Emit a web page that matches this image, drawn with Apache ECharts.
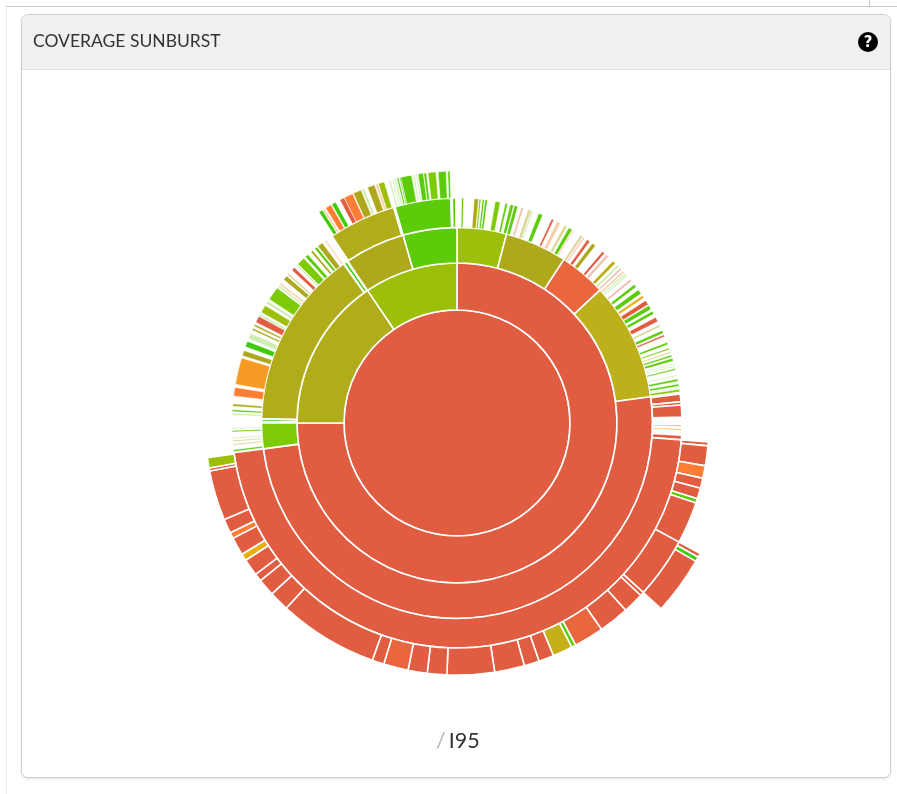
<!DOCTYPE html>
<html>
<head>
<meta charset="utf-8">
<script src="https://cdn.jsdelivr.net/npm/echarts@6/dist/echarts.min.js"></script>
<style>
html,body{margin:0;padding:0;background:#fff;width:897px;height:794px;overflow:hidden;font-family:Lato,sans-serif}
#ruleT{position:absolute;left:6px;top:6px;right:0;height:1px;background:#c9c9c9}
#ruleV{position:absolute;left:869px;top:0;width:1px;height:6px;background:#c9c9c9}
#ruleL{position:absolute;left:6px;top:7px;width:1px;bottom:0;background:#eeeeee}
#card{position:absolute;left:21px;top:14px;width:868px;height:762px;border:1px solid #cfcfcf;border-radius:7px;box-shadow:0 1px 2px rgba(0,0,0,.12);background:#fff;overflow:hidden}
#head{height:54px;background:#f0f0f0;border-bottom:1px solid #e2e2e2}
#chart{position:absolute;left:0;top:0;width:897px;height:794px}
#help{position:absolute;left:858px;top:32px;width:20px;height:20px;border-radius:50%;background:#000;color:#fff;font:bold 15px/20px "DejaVu Sans",sans-serif;text-align:center}
</style>
</head>
<body>
<div id="ruleT"></div><div id="ruleV"></div><div id="ruleL"></div>
<div id="card"><div id="head"></div></div>
<div id="chart"></div>
<div id="help">?</div>
<script>
// Coverage classes
const classColors = {
  R:'#e05d42', f:'#ea663e', F:'#fd7d35', A:'#f99a25', Y:'#e6b010', V:'#c6b01a',
  U:'#bdb01b', O:'#b0ac1a', N:'#ada81c', L:'#9dbf0a', M:'#7dcb07', G:'#5ccb0a', H:'#3fcb0b',
  pG:'#cdeeb0', pR:'#f2bdb0', pO:'#dcd79a', pF:'#f8cfa8', _:'rgba(0,0,0,0)'
};
const titleText = 'COVERAGE SUNBURST';
const pathSlash = '/';
const pathName = 'I95';

// [share of the circle, coverage class]; "_" = nothing drawn
const rootNode = [360,'R'];
const ring2 = [[270,'R'],[56,'O'],[34,'L']];
const ring3Red = [[14.7,'L'],[18.5,'N'],[13.9,'f'],[35.2,'U'],[180.1,'R'],[7.6,'M']];
const ring3Olive = [[.4,'_'],[.7,'H'],[.2,'_'],[53.2,'O'],[.2,'_'],[1,'H']];
const ring3Lime = [[18,'N'],[16,'G']];

const stripesA1 = [[1.2,'_'],[.5,'G'],[2.7,'_'],[1.1,'N'],[.2,'_'],[.4,'G'],[.4,'_'],[.5,'G'],[.2,'_'],[.6,'G'],[2,'_'],[1.3,'M'],[1.3,'_'],[.6,'G'],[.7,'_'],[.9,'G']];
const stripesA2 = [[.1,'_'],[.9,'G'],[.9,'_'],[.6,'pR'],[1.2,'_'],[.9,'pO'],[.1,'_'],[.4,'pG'],[1.5,'_'],[1.1,'G'],[2.5,'_'],[.6,'R'],[.9,'_'],[1,'pF'],[1.1,'_'],[.8,'pO'],[.5,'_'],[1,'G'],[.1,'_'],[.4,'pF']];
const stripesA3 = [[.1,'_'],[.7,'pO'],[.2,'_'],[.4,'pR'],[.8,'_'],[.8,'R'],[.8,'_'],[1,'N'],[2.3,'_'],[.7,'R'],[.6,'_'],[.7,'pR'],[1.6,'_'],[.9,'U'],[.6,'_'],[.6,'pG'],[.5,'_'],[.5,'pR']];
const stripesA4 = [[.4,'_'],[.5,'pF'],[.2,'_'],[.4,'pG'],[.2,'_'],[.4,'pG'],[1.1,'_'],[.6,'pR'],[1.1,'_'],[.8,'G'],[.9,'_'],[1.2,'G'],[.6,'_'],[.7,'Y'],[.8,'_'],[1.2,'R'],[.3,'_'],[1.1,'G'],[.6,'_'],[.8,'G'],[1,'_'],[1.2,'R'],[.9,'_'],[.6,'pO'],[1,'_'],[.8,'G'],[.4,'_'],[.5,'R'],[1.6,'_'],[.6,'G'],[.9,'_'],[.4,'M'],[.6,'_'],[.4,'pO'],[.5,'_'],[.5,'G'],[.4,'_'],[.7,'G'],[.6,'_'],[.3,'pG'],[.3,'_'],[.3,'pG'],[.5,'_'],[.4,'G'],[1.3,'_'],[.3,'pG'],[.7,'_'],[.6,'G'],[.7,'_'],[.6,'G'],[.3,'_'],[.3,'pG'],[.2,'_'],[.6,'M']];
const stripesA6 = [[.3,'_'],[.5,'G'],[1.1,'_'],[.4,'pO'],[.5,'_'],[.4,'pO'],[.4,'_'],[.3,'pG'],[1.4,'_'],[.4,'G'],[.4,'_'],[.3,'pG']];
const stripesB2 = [[.7,'_'],[.5,'pG'],[.4,'_'],[.5,'G'],[.9,'_'],[.6,'N'],[2,'_'],[2.2,'F'],[.8,'_'],[6.9,'A'],[.6,'_'],[1.4,'N'],[1,'_'],[1.5,'H'],[.7,'_'],[1.5,'pG'],[.9,'_'],[.5,'N'],[.6,'_'],[.5,'N'],[.6,'_'],[1.7,'R'],[.1,'_'],[.6,'pG'],[.5,'_'],[2,'L'],[.6,'_'],[.7,'pG'],[.6,'_'],[3.5,'M'],[.4,'_'],[.5,'pG'],[.2,'_'],[.5,'pF'],[1.1,'_'],[1.2,'N'],[.3,'_'],[.5,'pO'],[1.2,'_'],[.9,'R'],[.7,'_'],[.4,'pG'],[.2,'_'],[2.1,'M'],[.5,'_'],[.9,'G'],[1,'_'],[.6,'N'],[.7,'_'],[.7,'G'],[.3,'_'],[1.4,'N'],[.8,'_'],[.4,'pF']];

const ring4Red = [[.3,'_'],[2,'R'],[.8,'R'],[3.1,'R'],[1.8,'_'],[.7,'pR'],[.3,'_'],[.6,'Y'],[1.2,'_'],[1.2,'R'],[168.1,'R']];
const ring5Red = [[.9,'R'],[4.6,'R'],[2.9,'F'],[2.3,'R'],[2.5,'R'],[1,'G'],[9.7,'R'],[14.1,'R'],[.9,'R'],[4.8,'R'],[7,'R'],[6.9,'f'],[1,'G'],[4.6,'V'],[3.5,'R'],[3.5,'R'],[6.9,'R'],[10.9,'R'],[4.5,'R'],[4.4,'R'],[5.7,'f'],[2.75,'R'],[23.05,'R'],[4.6,'R'],[4,'R'],[1.8,'R'],[3.9,'R'],[1.6,'Y'],[4.2,'R'],[1.4,'F'],[3.3,'R'],[11.5,'R'],[.7,'R'],[2.4,'L']];
const ring6Red = [[.9,'R'],[1,'H'],[12.2,'R']];

const ring4Olive = [[.2,'_'],[17.4,'O']];
const ring4Green = [[14.4,'G'],[.4,'_'],[.9,'G']];
const stripesOlive = [[.6,'_'],[.9,'H'],[.1,'_'],[.5,'pF'],[.3,'_'],[1.4,'F'],[.2,'pF'],[1,'H'],[1.1,'_'],[1.1,'R'],[2.1,'F'],[.2,'_'],[1.9,'N'],[.2,'_'],[.6,'pG'],[.8,'_'],[1.7,'N'],[.2,'_'],[.6,'pF'],[.1,'_'],[1.4,'L']];
const stripesGreen = [[.3,'_'],[.4,'pG'],[.4,'_'],[.3,'pG'],[.2,'_'],[.4,'pG'],[.2,'_'],[.4,'G'],[.2,'_'],[.3,'G'],[2.5,'G'],[.3,'_'],[.4,'pG'],[.3,'_'],[.3,'pG'],[.2,'_'],[1.2,'G'],[.1,'_'],[.6,'G'],[.4,'_'],[1.8,'M'],[.5,'_'],[1.8,'G'],[.4,'_'],[.5,'G']];

// Builders: turn the lists above into the tree the library lays out
function item(d, thin, children) {
  const hidden = d[1] === '_';
  const n = { name: hidden ? '' : d[1], value: d[0],
    itemStyle: { color: classColors[d[1]], borderColor: '#fff',
      borderWidth: hidden ? 0 : (thin ? 0.5 : 1.6), borderJoin: 'bevel' } };
  if (children) n.children = children;
  return n;
}
const leaves = (list, thin) => list.map(d => item(d, thin));

const bigRed = leaves(ring5Red, false);
bigRed[7].children = leaves(ring6Red, false);

const a5children = ring4Red.map((d, i) => {
  if (i === ring4Red.length - 1) return item(d, false, bigRed);
  return item(d, false);
});
const redKids = [stripesA1, stripesA2, stripesA3, stripesA4, null, stripesA6].map((s, i) =>
  s ? item(ring3Red[i], false, leaves(s, true)) : item(ring3Red[i], false, a5children));

const oliveKids = ring3Olive.map((d, i) =>
  i === 3 ? item(d, false, leaves(stripesB2, true)) : item(d, false));

const d4Olive = ring4Olive.map((d, i) => i === 1 ? item(d, false, leaves(stripesOlive, true)) : item(d, false));
const d4Green = ring4Green.map((d, i) => i === 0 ? item(d, false, leaves(stripesGreen, true)) : item(d, false));
const limeKids = [item(ring3Lime[0], false, d4Olive), item(ring3Lime[1], false, d4Green)];

const tree = [ item(rootNode, false, [
  item(ring2[0], false, redKids),
  item(ring2[1], false, oliveKids),
  item(ring2[2], false, limeKids)
]) ];

const chart = echarts.init(document.getElementById('chart'), null, { renderer: 'canvas' });
chart.setOption({
  animation: false,
  backgroundColor: 'transparent',
  title: [
    { text: titleText, left: 33, top: 32, padding: 0,
      textStyle: { fontFamily: 'Lato', fontSize: 17.5, fontWeight: 'normal', color: '#333' } },
    { text: '{a|' + pathSlash + '}{b|' + pathName + '}', left: 436, top: 730, padding: 0,
      textStyle: { rich: {
        a: { fontFamily: 'Lato', fontSize: 21.5, fontWeight: 'normal', color: '#b5b5b5' },
        b: { fontFamily: 'Lato', fontSize: 21.5, fontWeight: 'normal', color: '#333', padding: [0, 0, 0, 3] } } } }
  ],
  series: [{
    type: 'sunburst',
    center: [457, 423],
    radius: [0, 276],
    startAngle: 90,
    clockwise: true,
    sort: null,
    nodeClick: false,
    silent: true,
    label: { show: false },
    emphasis: { focus: 'none' },
    levels: [
      {},
      { r0: 0, r: 113 },
      { r0: 113, r: 160 },
      { r0: 160, r: 195.5 },
      { r0: 195.5, r: 225 },
      { r0: 225, r: 252 },
      { r0: 252, r: 276 }
    ],
    data: tree
  }]
});
</script>
</body>
</html>
